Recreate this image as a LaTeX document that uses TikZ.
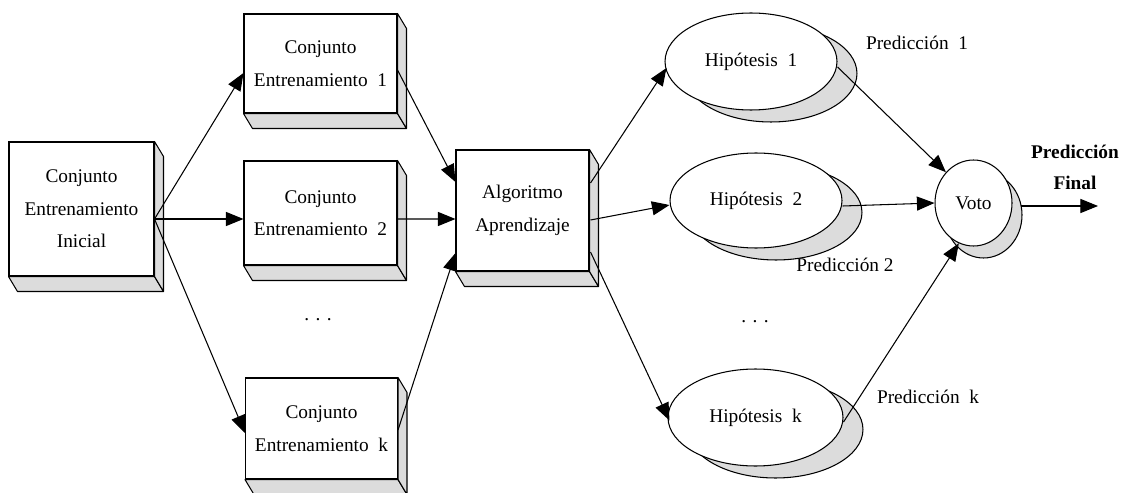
\documentclass[tikz,border=0pt]{standalone}
\usepackage{fontspec}
\setmainfont{Liberation Serif}
\usetikzlibrary{arrows.meta,calc,shapes.geometric}
\definecolor{facegray}{HTML}{DCDCDC}
\begin{document}
\begin{tikzpicture}[x=0.02cm,y=-0.02cm,
  every node/.style={font=\fontsize{11}{18.5}\selectfont},
  box/.style={draw, fill=white, line width=0.6pt, align=center, inner sep=0pt},
  face/.style={draw, fill=facegray, line width=0.6pt, line join=round},
  hyp/.style={ellipse, draw, fill=white, line width=0.6pt, inner sep=0pt,
    preaction={draw, fill=facegray, transform canvas={shift={(#1)}}}},
  hyp/.default={0.4cm,-0.24cm},
  arr/.style={-{Triangle[length=10pt,width=8pt]}, line width=0.6pt},
  lbl/.style={inner sep=0pt, align=center}]
\useasboundingbox (0,0) rectangle (1125,493);

% training sets and learner (front faces)
\node[box, minimum width=2.9cm, minimum height=2.68cm] (ini) at (81.5,209)
  {Conjunto\\Entrenamiento\\Inicial};
\node[box, minimum width=3.06cm, minimum height=1.98cm] (c1) at (320.5,63.5)
  {Conjunto\\Entrenamiento\ \ 1};
\node[box, minimum width=3.06cm, minimum height=2.08cm] (c2) at (320.5,213)
  {Conjunto\\Entrenamiento\ \ 2};
\node[box, minimum width=3.04cm, minimum height=2.02cm] (ck) at (321.5,428.5)
  {Conjunto\\Entrenamiento\ \ k};
\node[box, minimum width=2.66cm, minimum height=2.42cm] (alg) at (522.5,210.5)
  {Algoritmo\\Aprendizaje};

% bottom and right faces of the boxes
\foreach \n in {ini,c1,c2,ck,alg}{
  \draw[face] (\n.south west) -- (\n.south east) -- ([shift={(9,15)}]\n.south east)
    -- ([shift={(9,15)}]\n.south west) -- cycle;
  \draw[face] (\n.north east) -- ([shift={(9,15)}]\n.north east)
    -- ([shift={(9,15)}]\n.south east) -- (\n.south east) -- cycle;
}

% hypotheses and vote
\node[hyp, minimum width=3.44cm, minimum height=1.94cm] (h1) at (751,61.5) {Hip\'otesis\ \ 1};
\node[hyp, minimum width=3.44cm, minimum height=1.9cm] (h2) at (756,200.5) {Hip\'otesis\ \ 2};
\node[hyp, minimum width=3.5cm, minimum height=1.94cm] (hk) at (755.5,417.5) {Hip\'otesis\ \ k};
\node[hyp={0.2cm,-0.24cm}, minimum width=1.54cm, minimum height=1.72cm] (voto) at (973.5,203) {Voto};

% labels
\node[lbl] (p1) at (917,43) {Predicci\'on\ \ 1};
\node[lbl] (p2) at (845,265) {Predicci\'on 2};
\node[lbl] (pk) at (928,397) {Predicci\'on\ \ k};
\node[lbl, font=\fontsize{11}{17.5}\selectfont\bfseries] (pf) at (1075,167.5) {Predicci\'on\\Final};
\node[lbl] (d1) at (318,320) {.\,\,.\,\,.};
\node[lbl] (d2) at (755,322) {.\,\,.\,\,.};

% connectors
\coordinate (iniout) at ($(ini.east)+(0,10)$);
\draw[arr] (iniout) -- ($(c1.west)+(0,9.5)$);
\draw[arr] (iniout) -- ($(c2.west)+(0,6)$);
\draw[arr] (iniout) -- ($(ck.west)+(0,4.5)$);

\draw[arr] ($(c1.east)+(0,6.5)$) -- ($(alg.west)+(0,-28.5)$);
\draw[arr] ($(c2.east)+(0,6)$) -- ($(alg.west)+(0,8.5)$);
\draw[arr] ($(ck.east)+(0,1.5)$) -- ($(alg.west)+(0,42.5)$);

\draw[arr] ($(alg.east)+(1,-27.5)$) -- ($(h1.west)+(2,6.5)$);
\draw[arr] ($(alg.east)+(1,9.5)$) -- ($(h2.west)+(0,4.5)$);
\draw[arr] ($(alg.east)+(1,41.5)$) -- ($(hk.west)+(2,3)$);

\draw[arr] ($(h1.east)+(0,5.5)$) -- (voto.north west);
\draw[arr] ($(h2.east)+(0,5.5)$) -- (voto.west);
\draw[arr] ($(hk.east)+(0,4.5)$) -- (voto.250);

\coordinate (vout) at (1098,206);
\draw[arr] ($(voto.east)+(8,3)$) -- (vout);
\end{tikzpicture}
\end{document}
